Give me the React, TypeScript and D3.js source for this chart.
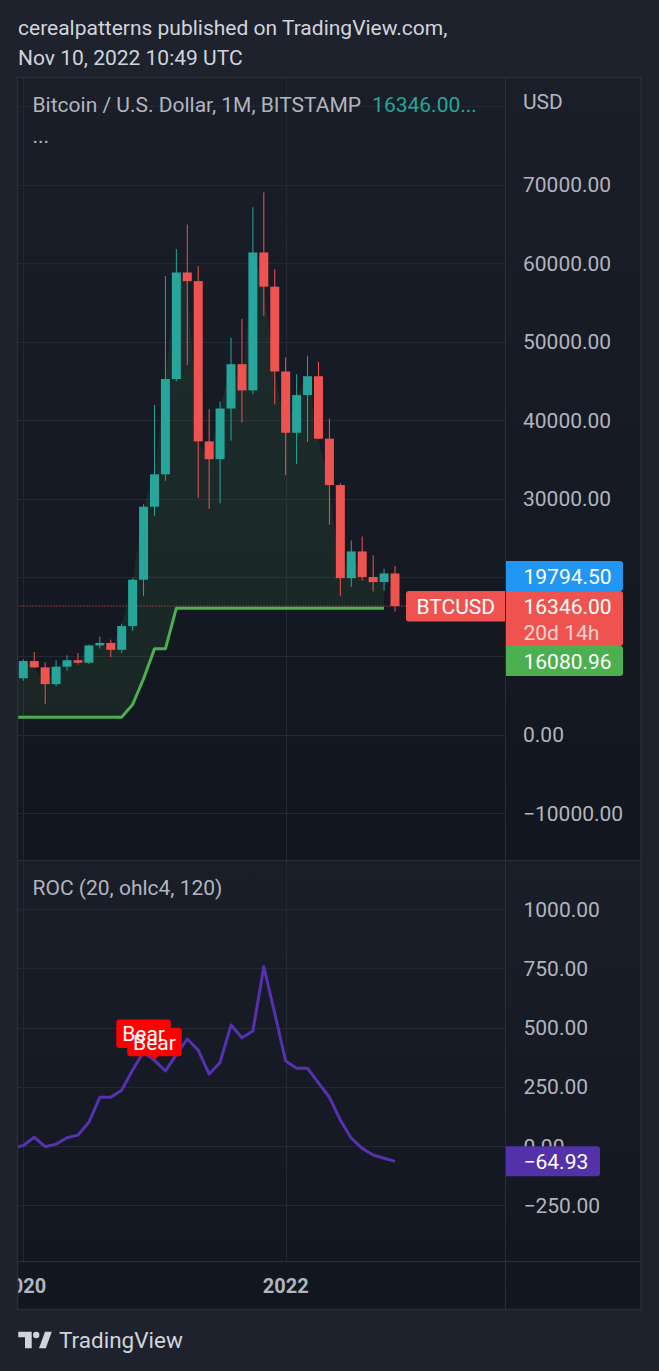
import React from 'react';
import * as d3 from 'd3';

// ---------- DATA ----------
const months = [
  '2019-12', '2020-01', '2020-02', '2020-03', '2020-04', '2020-05', '2020-06', '2020-07', '2020-08', '2020-09', '2020-10', '2020-11', '2020-12',
  '2021-01', '2021-02', '2021-03', '2021-04', '2021-05', '2021-06', '2021-07', '2021-08', '2021-09', '2021-10', '2021-11', '2021-12',
  '2022-01', '2022-02', '2022-03', '2022-04', '2022-05', '2022-06', '2022-07', '2022-08', '2022-09', '2022-10', '2022-11',
];
const opens = [
  7540, 7160, 9350, 8543, 6410, 8629, 9450, 9137, 11335, 11655, 10776, 13800, 19700,
  28990, 33110, 45240, 58800, 57700, 37300, 35040, 41490, 47130, 43800, 61350, 57000,
  46200, 38400, 43200, 45600, 37650, 31750, 19900, 23300, 20050, 19400, 20500,
];
const highs = [
  7750, 9578, 10500, 9190, 9460, 10070, 10380, 11440, 12470, 12070, 14100, 19890, 29300,
  41950, 58350, 61780, 64900, 59600, 41400, 42400, 50500, 52900, 67100, 69000, 59200,
  48000, 45850, 48200, 47400, 40200, 31970, 24700, 25200, 22800, 21100, 21450,
];
const lows = [
  6430, 6850, 8450, 3850, 6150, 8110, 8900, 8960, 10950, 9850, 10370, 13200, 17600,
  27800, 32300, 44950, 47000, 30100, 28700, 29400, 37400, 39700, 43300, 53300, 42000,
  33000, 34400, 37250, 37600, 26700, 17650, 18800, 19600, 18200, 18300, 15650,
];
const closes = [
  7160, 9350, 8543, 6410, 8629, 9450, 9137, 11335, 11655, 10776, 13800, 19700, 28990,
  33110, 45240, 58800, 57700, 37300, 35040, 41490, 47130, 43800, 61350, 57000, 46200,
  38400, 43200, 45600, 37650, 31750, 19900, 23300, 20050, 19400, 20500, 16346,
];
const stopLine: (number | null)[] = [
  2210, 2210, 2210, 2210, 2210, 2210, 2210, 2210, 2210, 2210, 2210, 3820, 7100,
  10900, 10900, 16080.96, 16080.96, 16080.96, 16080.96, 16080.96, 16080.96, 16080.96, 16080.96, 16080.96, 16080.96,
  16080.96, 16080.96, 16080.96, 16080.96, 16080.96, 16080.96, 16080.96, 16080.96, 16080.96, 16080.96, null,
];
const rocValues = [
  -8, 2, 37, -3, 8, 35, 46, 100, 206, 206, 236, 321, 397,
  362, 317, 386, 452, 405, 304, 353, 511, 457, 486, 757, 560,
  359, 328, 328, 267, 206, 110, 33, -10, -38, -52, -64.93,
];
const bearMonths = ['2020-12', '2021-01'];
const priceTicks = [80000, 70000, 60000, 50000, 40000, 30000, 20000, 10000, 0, -10000];
const rocTicks = [1000, 750, 500, 250, 0, -250];
const yearTicks = [
  { label: '2020', month: '2020-01' },
  { label: '2022', month: '2022-01' },
];
const blueValue = 19794.5;
const stopValue = 16080.96;
const lastRoc = -64.93;

// ---------- LAYOUT ----------
const W = 659;
const H = 1371;
const L = 17.5;
const R = 641;
const AX = 505.5;
const TOP = 77.5;
const DIV = 860.5;
const TAX = 1261.5;
const BOT = 1309.5;
const FONT = 'Roboto, "Noto Sans", sans-serif';
const FS = 21;
const UP = '#26a69a';
const DOWN = '#ef5350';
const GRID = '#242833';
const BORDER = '#2a2e39';
const TXT = '#b2b5be';

const fmt = (v: number) => (v < 0 ? '\u2212' : '') + Math.abs(v).toFixed(2);

export default function App() {
  const x = d3.scaleLinear().domain([0, months.length - 1]).range([12.37, 395.0]);
  const yP = d3.scaleLinear().domain([0, 70000]).range([734.5, 184.5]);
  const yR = d3.scaleLinear().domain([0, 1000]).range([1146, 909.3]);
  const idx = (m: string) => months.indexOf(m);

  const bodyW = 9;

  const stopPts = stopLine.map((v, i) => ({ i, v })).filter((d) => d.v !== null) as { i: number; v: number }[];
  const lineStop = d3.line<{ i: number; v: number }>().x((d) => x(d.i)).y((d) => yP(d.v));
  const areaFill = d3
    .area<{ i: number; v: number }>()
    .x((d) => x(d.i))
    .y0((d) => yP(d.v))
    .y1((d) => yP(closes[d.i]));
  const lineRoc = d3.line<number>().x((_, i) => x(i)).y((d) => yR(d));

  const last = closes.length - 1;
  const lastClose = closes[last];
  const redC = yP(lastClose);
  const redTop = redC - 15;
  const redBot = redTop + 55;
  const blueC = Math.min(yP(blueValue), redTop - 15);
  const greenC = Math.max(yP(stopValue), redBot + 15);
  const rocC = yR(lastRoc);

  const boxes = [
    [blueC - 15, blueC + 15],
    [redTop, redBot],
    [greenC - 15, greenC + 15],
  ];
  const priceLabelVisible = (v: number) => {
    const yy = yP(v);
    if (yy < 130) return false;
    return !boxes.some(([a, b]) => yy > a - 8 && yy < b + 8);
  };

  const boxPath = (x0: number, y0: number, w: number, h: number, r: number) =>
    `M${x0},${y0}H${x0 + w - r}Q${x0 + w},${y0} ${x0 + w},${y0 + r}V${y0 + h - r}Q${x0 + w},${y0 + h} ${x0 + w - r},${y0 + h}H${x0}Z`;
  const boxPathL = (x0: number, y0: number, w: number, h: number, r: number) =>
    `M${x0 + w},${y0}H${x0 + r}Q${x0},${y0} ${x0},${y0 + r}V${y0 + h - r}Q${x0},${y0 + h} ${x0 + r},${y0 + h}H${x0 + w}Z`;

  const bears = bearMonths.map((m) => {
    const i = idx(m);
    const tx = x(i);
    const ty = yR(rocValues[i]);
    const bw = 54.5;
    const bh = 28.5;
    const by = ty - 4 - bh;
    return { m, tx, ty, bw, bh, by };
  });

  return (
    <svg
      width={W}
      height={H}
      style={{ position: 'absolute', left: 0, top: 0, display: 'block' }}
      fontFamily={FONT}
    >
      <defs>
        <linearGradient id="gp" gradientUnits="userSpaceOnUse" x1="0" y1={TOP} x2="0" y2={DIV}>
          <stop offset="0" stopColor="#1a1e29" />
          <stop offset="1" stopColor="#12161f" />
        </linearGradient>
        <linearGradient id="gr" gradientUnits="userSpaceOnUse" x1="0" y1={DIV} x2="0" y2={BOT}>
          <stop offset="0" stopColor="#1a1e29" />
          <stop offset="1" stopColor="#12161f" />
        </linearGradient>
        <clipPath id="cp">
          <rect x={L + 0.5} y={TOP + 0.5} width={AX - L - 1} height={DIV - TOP - 1} />
        </clipPath>
        <clipPath id="cr">
          <rect x={L + 0.5} y={DIV + 0.5} width={AX - L - 1} height={TAX - DIV - 1} />
        </clipPath>
        <clipPath id="ct">
          <rect x={L + 0.5} y={TAX} width={AX - L - 1} height={BOT - TAX} />
        </clipPath>
      </defs>

      <rect x={0} y={0} width={W} height={H} fill="#1e222d" />

      {/* header */}
      <text x={18} y={35} fontSize={FS} fill="#d1d4dc">cerealpatterns published on TradingView.com,</text>
      <text x={18} y={65} fontSize={FS} fill="#d1d4dc">Nov 10, 2022 10:49 UTC</text>

      {/* pane backgrounds */}
      <rect x={L} y={TOP} width={R - L} height={DIV - TOP} fill="url(#gp)" />
      <rect x={L} y={DIV} width={R - L} height={BOT - DIV} fill="url(#gr)" />

      {/* grids */}
      <g clipPath="url(#cp)">
        {priceTicks.map((v) => (
          <line key={v} x1={L} x2={AX} y1={Math.round(yP(v)) + 0.5} y2={Math.round(yP(v)) + 0.5} stroke={GRID} />
        ))}
        {yearTicks.map((t) => (
          <line key={t.label} x1={Math.round(x(idx(t.month))) + 0.5} x2={Math.round(x(idx(t.month))) + 0.5} y1={TOP} y2={DIV} stroke={GRID} />
        ))}
      </g>
      <g clipPath="url(#cr)">
        {rocTicks.map((v) => (
          <line key={v} x1={L} x2={AX} y1={Math.round(yR(v)) + 0.5} y2={Math.round(yR(v)) + 0.5} stroke={GRID} />
        ))}
        {yearTicks.map((t) => (
          <line key={t.label} x1={Math.round(x(idx(t.month))) + 0.5} x2={Math.round(x(idx(t.month))) + 0.5} y1={DIV} y2={TAX} stroke={GRID} />
        ))}
      </g>

      {/* price pane contents */}
      <g clipPath="url(#cp)">
        <path d={areaFill(stopPts) || ''} fill="rgba(76,175,80,0.1)" />
        <line x1={L} x2={406} y1={redC} y2={redC} stroke={DOWN} strokeWidth={1} strokeDasharray="1 2" />
        {months.map((m, i) => {
          const up = closes[i] >= opens[i];
          const c = up ? UP : DOWN;
          const cx = x(i);
          const yTop = yP(Math.max(opens[i], closes[i]));
          const yBot = yP(Math.min(opens[i], closes[i]));
          return (
            <g key={m}>
              <rect x={cx - 0.5} y={yP(highs[i])} width={1} height={yP(lows[i]) - yP(highs[i])} fill={c} />
              <rect x={cx - bodyW / 2} y={yTop} width={bodyW} height={Math.max(1, yBot - yTop)} fill={c} />
            </g>
          );
        })}
        <path d={lineStop(stopPts) || ''} fill="none" stroke="#4caf50" strokeWidth={3} strokeLinejoin="round" />
      </g>

      {/* BTCUSD label */}
      <path d={boxPathL(406, redTop, AX - 406, 30.5, 3)} fill={DOWN} />
      <text x={(406 + AX) / 2} y={redC + 7.5} fontSize={FS} fill="#ffffff" textAnchor="middle">BTCUSD</text>

      {/* ROC pane */}
      <g clipPath="url(#cr)">
        <path d={lineRoc(rocValues) || ''} fill="none" stroke="#5632b0" strokeWidth={3} strokeLinejoin="round" />
        {bears.map((b) => (
          <g key={b.m + 'box'}>
            <rect x={b.tx - b.bw / 2} y={b.by} width={b.bw} height={b.bh} rx={3} fill="#ff0000" />
            <path d={`M${b.tx - 4},${b.by + b.bh - 0.5}L${b.tx},${b.ty}L${b.tx + 4},${b.by + b.bh - 0.5}Z`} fill="#ff0000" />
          </g>
        ))}
        {bears.map((b) => (
          <text key={b.m + 'txt'} x={b.tx} y={b.by + b.bh / 2 + 7.5} fontSize={FS} fill="#ffffff" textAnchor="middle">Bear</text>
        ))}
      </g>

      {/* pane titles */}
      <text x={32.5} y={112} fontSize={FS} fill={TXT}>
        Bitcoin / U.S. Dollar, 1M, BITSTAMP
        <tspan dx={11} fill={UP}>16346.00...</tspan>
      </text>
      <text x={32.5} y={143} fontSize={FS} fill={TXT}>...</text>
      <text x={32.5} y={895} fontSize={FS} fill={TXT}>ROC (20, ohlc4, 120)</text>

      {/* price axis labels */}
      <text x={523} y={109} fontSize={FS} fill={TXT}>USD</text>
      {priceTicks.filter(priceLabelVisible).map((v) => (
        <text key={v} x={523} y={yP(v) + 7.5} fontSize={FS} fill={TXT}>{fmt(v)}</text>
      ))}
      <path d={boxPath(AX, blueC - 15, 623 - AX, 30, 3)} fill="#2196f3" />
      <text x={523.5} y={blueC + 7.5} fontSize={FS} fill="#ffffff">{fmt(blueValue)}</text>
      <path d={boxPath(AX, redTop, 623 - AX, 55, 3)} fill={DOWN} />
      <text x={523.5} y={redC + 7.5} fontSize={FS} fill="#ffffff">{fmt(lastClose)}</text>
      <text x={523.5} y={redC + 33.5} fontSize={FS} fill="#fbd3d2">20d 14h</text>
      <path d={boxPath(AX, greenC - 15, 623 - AX, 30, 3)} fill="#4caf50" />
      <text x={523.5} y={greenC + 7.5} fontSize={FS} fill="#ffffff">{fmt(stopValue)}</text>

      {/* ROC axis labels */}
      {rocTicks.map((v) => (
        <text key={v} x={523.5} y={yR(v) + 7.5} fontSize={FS} fill={TXT}>{fmt(v)}</text>
      ))}
      <path d={boxPath(AX, rocC - 15, 600 - AX, 30, 3)} fill="#5331a9" />
      <text x={523.5} y={rocC + 7.5} fontSize={FS} fill="#ffffff">{fmt(lastRoc)}</text>

      {/* time axis */}
      <g clipPath="url(#ct)">
        {yearTicks.map((t) => (
          <text key={t.label} x={x(idx(t.month))} y={1292.5} fontSize={20} fontWeight={700} fill={TXT} textAnchor="middle">
            {t.label}
          </text>
        ))}
      </g>

      {/* borders and separators */}
      <line x1={AX} x2={AX} y1={TOP} y2={BOT} stroke={BORDER} />
      <line x1={L} x2={R} y1={DIV} y2={DIV} stroke={BORDER} />
      <line x1={L} x2={R} y1={TAX} y2={TAX} stroke={BORDER} />
      <rect x={L} y={TOP} width={R - L} height={BOT - TOP} fill="none" stroke={BORDER} strokeWidth={1.5} />

      {/* TradingView logo */}
      <g fill="#d1d4dc">
        <path d="M18.3,1331.7H31.7V1348.3H25V1337.3H18.3Z" />
        <circle cx={36.2} cy={1335} r={3.2} />
        <path d="M39,1348.3L45,1331.7H51.8L45.8,1348.3Z" />
      </g>
      <text x={59} y={1348} fontSize={22.5} fill="#d1d4dc">TradingView</text>
    </svg>
  );
}
